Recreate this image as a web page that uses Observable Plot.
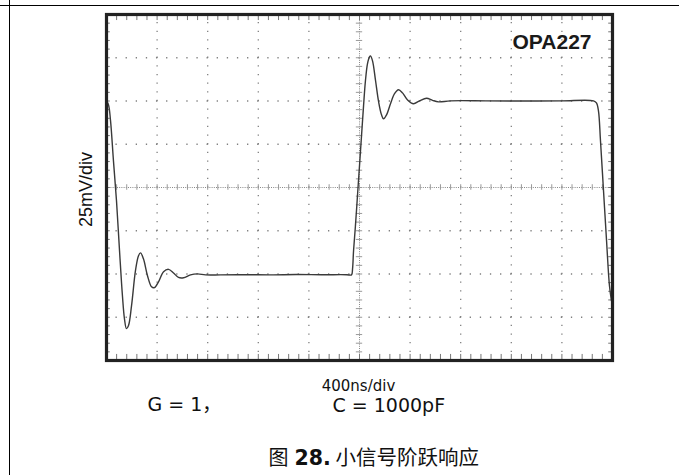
<!DOCTYPE html>
<html>
<head>
<meta charset="utf-8">
<script src="https://cdn.jsdelivr.net/npm/d3@7"></script>
<script src="https://cdn.jsdelivr.net/npm/@observablehq/plot@0.6"></script>
<style>
  html, body { margin: 0; padding: 0; background: #fff; }
  #page { position: relative; width: 679px; height: 475px; overflow: hidden; }
  #page svg { position: absolute; left: 0; top: 0; }
  .hline { position: absolute; left: 0; top: 5px; width: 679px; height: 1px; background: #000; }
  .vline { position: absolute; left: 9px; top: 0; width: 1px; height: 475px; background: #000; }
</style>
</head>
<body>
<div id="page"><div class="hline"></div><div class="vline"></div></div>
<script>
// Oscilloscope graticule: 10 time divisions (400 ns/div), 8 voltage divisions (25 mV/div)
const timeDivs = [0, 400, 800, 1200, 1600, 2000, 2400, 2800, 3200, 3600, 4000];
const voltDivs = [-100, -75, -50, -25, 0, 25, 50, 75, 100];
const timeMinor = d3.range(0, 4000.1, 80);
const voltMinor = d3.range(-100, 100.1, 5);

// Trace: time (ns) and output (mV)
const traceTime = [0, 16, 32, 55, 79, 103, 126, 142, 158, 174, 198, 229, 253, 269, 292, 324, 356, 379, 411, 451, 490, 530, 569, 609, 664, 719, 783, 900, 1100, 1300, 1500, 1700, 1900, 1937, 1945, 1953, 1968, 1984, 2000, 2016, 2032, 2047, 2063, 2079, 2087, 2103, 2127, 2150, 2174, 2190, 2214, 2245, 2277, 2308, 2340, 2380, 2427, 2474, 2530, 2577, 2624, 2719, 3000, 3300, 3600, 3850, 3873, 3889, 3905, 3929, 3953, 3976, 3992];
const traceVolt = [50, 47.7, 38.5, 15.4, -7.7, -36.6, -62.6, -75.9, -81.6, -79.8, -68.3, -48.1, -39.4, -37.8, -41.2, -51, -57.4, -57.9, -54.5, -48.7, -47.3, -49.4, -52, -52.2, -50.5, -49.9, -50.5, -50.5, -50.4, -50.5, -50.3, -50.4, -50.4, -50.5, -47, -36.6, -22, -4.8, 12.5, 29.9, 47.2, 61.7, 71.5, 75.5, 76.1, 73.2, 61.7, 50, 42, 39.7, 42, 48.4, 54.2, 56.5, 54.7, 50.6, 48.4, 50.1, 51.6, 50.4, 49.5, 50.1, 50.1, 50, 50.1, 50.1, 48.9, 44.3, 27, -1.9, -30.8, -56.8, -65.5];

const chipLabel = "OPA227";
const yLabel = "25mV/div";
const xLabel = "400ns/div";
const gainText = "G = 1，";
const capText = "C = 1000pF";
const figPrefix = "图";
const figNumber = "28.";
const figTitle = "小信号阶跃响应";

const trace = traceTime.map((t, i) => ({t, v: traceVolt[i]}));
const innerT = timeDivs.filter(d => d !== 0 && d !== 4000 && d !== 2000);
const innerV = voltDivs.filter(d => d !== -100 && d !== 100 && d !== 0);
const textFont = "'DejaVu Sans', 'Noto Sans CJK SC', sans-serif";

const plot = Plot.plot({
  width: 679,
  height: 475,
  marginLeft: 106,
  marginRight: 67,
  marginTop: 14,
  marginBottom: 115,
  x: {domain: [0, 4000], axis: null},
  y: {domain: [-100, 100], axis: null},
  style: {background: "transparent", overflow: "visible"},
  marks: [
    // dotted major grid lines (dots at minor subdivisions)
    Plot.ruleX(innerT, {x: d => d, y1: -100, y2: 100, stroke: "#808080", strokeWidth: 1.3, strokeDasharray: "1.3 7.35", strokeDashoffset: 0.65}),
    Plot.ruleY(innerV, {y: d => d, x1: 0, x2: 4000, stroke: "#808080", strokeWidth: 1.3, strokeDasharray: "1.3 8.82", strokeDashoffset: 0.65}),
    // center cross: fine dotted lines with minor ticks
    Plot.ruleX([2000], {x: d => d, y1: -100, y2: 100, stroke: "#888", strokeWidth: 1, strokeDasharray: "1 1.2"}),
    Plot.ruleY([0], {y: d => d, x1: 0, x2: 4000, stroke: "#888", strokeWidth: 1, strokeDasharray: "1 1.2"}),
    Plot.ruleX(timeMinor, {x: d => d, y1: -1.6, y2: 1.6, stroke: "#999", strokeWidth: 1}),
    Plot.ruleY(voltMinor, {y: d => d, x1: 1975, x2: 2025, stroke: "#999", strokeWidth: 1}),
    // ticks on the inside of the frame
    Plot.ruleX(timeMinor, {x: d => d, y1: -100, y2: -96.5, stroke: "#777", strokeWidth: 1}),
    Plot.ruleX(timeMinor, {x: d => d, y1: 96.5, y2: 100, stroke: "#777", strokeWidth: 1}),
    Plot.ruleY(voltMinor, {y: d => d, x1: 0, x2: 30, stroke: "#777", strokeWidth: 1}),
    Plot.ruleY(voltMinor, {y: d => d, x1: 3970, x2: 4000, stroke: "#777", strokeWidth: 1}),
    // the step response trace
    Plot.line(trace, {x: "t", y: "v", stroke: "#3a3a3a", strokeWidth: 1.4, curve: "catmull-rom"}),
    Plot.frame({stroke: "#222", strokeWidth: 3.2}),
    // labels
    Plot.text([chipLabel], {text: d => d, frameAnchor: "top-right", dx: -21, dy: 34, lineAnchor: "bottom", textAnchor: "end", fontSize: 21, fontWeight: "bold", fontFamily: "'Liberation Sans', Arial, sans-serif", fill: "#1a1a1a"}),
    Plot.text([yLabel], {text: d => d, frameAnchor: "left", rotate: -90, dx: -14.5, dy: 2, lineAnchor: "bottom", textAnchor: "middle", fontSize: 18, fontFamily: "'Liberation Sans', Arial, sans-serif", fill: "#111"}),
    Plot.text([xLabel], {text: d => d, frameAnchor: "bottom", dx: -1, dy: 30, lineAnchor: "bottom", textAnchor: "middle", fontSize: 15, fontFamily: textFont, fill: "#111"}),
    Plot.text([gainText], {text: d => d, frameAnchor: "bottom-left", dx: 41, dy: 50.5, lineAnchor: "bottom", textAnchor: "start", fontSize: 19, fontFamily: textFont, fill: "#111"}),
    Plot.text([capText], {text: d => d, frameAnchor: "bottom-left", dx: 226, dy: 51.5, lineAnchor: "bottom", textAnchor: "start", fontSize: 19, fontFamily: textFont, fill: "#111"}),
    Plot.text([figPrefix], {text: d => d, frameAnchor: "bottom-left", dx: 162, dy: 104, lineAnchor: "bottom", textAnchor: "start", fontSize: 20, fontFamily: "'Noto Sans CJK SC', sans-serif", fill: "#111"}),
    Plot.text([figNumber], {text: d => d, frameAnchor: "bottom-left", dx: 188, dy: 104, lineAnchor: "bottom", textAnchor: "start", fontSize: 20.5, fontWeight: "bold", fontFamily: textFont, fill: "#111"}),
    Plot.text([figTitle], {text: d => d, frameAnchor: "bottom-left", dx: 229, dy: 104, lineAnchor: "bottom", textAnchor: "start", fontSize: 20.5, fontFamily: "'Noto Sans CJK SC', sans-serif", fill: "#111"})
  ]
});
document.getElementById("page").appendChild(plot);
</script>
</body>
</html>
